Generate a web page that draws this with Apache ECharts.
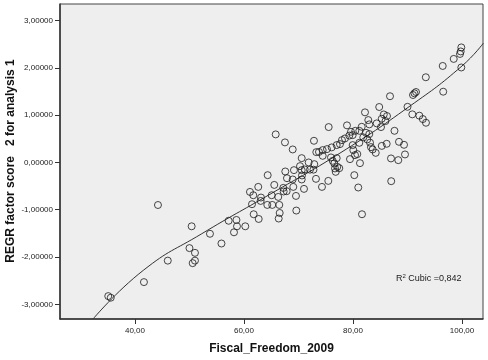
<!DOCTYPE html>
<html>
<head>
<meta charset="utf-8">
<script src="https://cdn.jsdelivr.net/npm/echarts@6/dist/echarts.min.js"></script>
<style>html,body{margin:0;padding:0;background:#fff}#c{width:488px;height:360px}</style>
</head>
<body>
<div id="c"></div>
<script>
// Scatter points: Fiscal_Freedom_2009 (x) vs REGR factor score 2 (y)
const fiscalFreedom = [
99.87,99.76,99.63,98.48,96.46,99.87,93.36,96.55,91.56,91.28,91.01,86.79,90.00,84.81,90.88,92.17,92.81,93.39,82.20,85.65,
86.24,85.27,85.96,85.14,82.81,84.35,82.99,81.60,78.90,75.54,80.42,79.63,81.16,82.39,82.99,81.89,79.94,79.32,78.53,77.98,
77.61,77.01,76.09,75.23,74.44,73.76,73.27,74.44,72.84,87.61,88.44,89.36,86.18,85.28,89.54,86.97,88.31,87.01,81.65,80.97,
80.24,81.28,79.45,80.37,80.79,84.17,83.61,83.30,83.12,82.62,81.16,79.94,80.06,68.94,70.59,75.96,76.28,76.57,77.01,77.12,
76.70,76.83,77.49,72.90,71.87,70.28,70.59,71.14,72.11,70.59,70.64,71.01,73.21,75.47,74.31,69.17,67.58,67.89,68.94,69.05,
65.82,67.52,64.35,65.56,67.21,67.83,69.54,66.29,65.08,63.12,62.62,61.10,61.71,61.47,63.06,64.28,65.19,66.48,67.28,69.60,
66.55,66.37,61.78,62.70,60.24,58.72,58.62,58.17,57.19,55.87,53.76,50.40,50.00,51.01,51.01,50.59,46.02,44.22,41.65,35.10,
35.56,72.75
];
const factorScore = [
2.432,2.347,2.294,2.189,2.040,2.008,1.801,1.496,1.489,1.462,1.426,1.400,1.176,1.172,1.017,0.989,0.917,0.839,1.059,1.015,
0.981,0.924,0.875,0.748,0.896,0.826,0.805,0.754,0.784,0.748,0.669,0.648,0.669,0.627,0.600,0.530,0.578,0.568,0.508,0.472,
0.388,0.367,0.318,0.282,0.261,0.222,0.218,0.140,0.458,0.669,0.436,0.373,0.394,0.350,0.169,0.085,0.049,-0.396,-1.095,-0.530,
-0.269,-0.015,0.070,0.155,0.176,0.203,0.275,0.324,0.419,0.487,0.415,0.367,0.261,0.275,0.091,0.106,0.034,-0.021,0.091,-0.093,
-0.127,-0.199,-0.121,-0.036,0.000,-0.078,-0.163,-0.148,-0.153,-0.360,-0.275,-0.559,-0.347,-0.390,-0.517,-0.163,-0.191,-0.333,-0.360,-0.517,
0.593,0.424,-0.269,-0.475,-0.538,-0.608,-0.708,-0.729,-0.693,-0.742,-0.517,-0.623,-0.693,-0.883,-0.814,-0.898,-0.898,-0.898,-0.614,-1.017,
-1.068,-1.186,-1.095,-1.195,-1.350,-1.350,-1.216,-1.477,-1.233,-1.714,-1.508,-1.350,-1.811,-1.911,-2.076,-2.129,-2.076,-0.900,-2.530,-2.826,
-2.860,-0.153
];
// Cubic fit line
const curveX = [32.35,41.52,52.24,64.95,77.61,90.46,100.00,103.91];
const curveY = [-3.305,-2.282,-1.508,-0.661,0.197,1.193,2.040,2.521];
const xTicks = [40,60,80,100];
const yTicks = [-3,-2,-1,0,1,2,3];

const points = fiscalFreedom.map((x,i)=>[x,factorScore[i]]);
const curve = curveX.map((x,i)=>[x,curveY[i]]);

const chart = echarts.init(document.getElementById('c'), null, {renderer:'canvas'});
const font = 'Arial, "Liberation Sans", sans-serif';
chart.setOption({
  animation:false,
  backgroundColor:'#ffffff',
  grid:{left:60,top:4,right:5,bottom:41,containLabel:false,outerBoundsMode:'none',
    show:true,backgroundColor:'#eeeeee',borderColor:'#444',borderWidth:1},
  xAxis:{
    type:'value',min:26.25,max:103.85,
    name:'Fiscal_Freedom_2009',nameLocation:'middle',nameGap:24,
    nameTextStyle:{fontFamily:font,fontSize:12,fontWeight:'bold',color:'#111',verticalAlign:'top'},
    axisLine:{show:true,onZero:false,lineStyle:{color:'#333',width:1.5}},
    axisTick:{show:true,length:5,customValues:xTicks,lineStyle:{color:'#333'}},
    axisLabel:{customValues:xTicks,margin:8,fontFamily:font,fontSize:8,color:'#222',
      formatter:v=>v.toFixed(2).replace('.',',')},
    splitLine:{show:false}
  },
  yAxis:{
    type:'value',min:-3.31,max:3.35,
    axisLine:{show:true,onZero:false,lineStyle:{color:'#333',width:1.5}},
    axisTick:{show:true,length:5,customValues:yTicks,lineStyle:{color:'#333'}},
    axisLabel:{customValues:yTicks,margin:7,fontFamily:font,fontSize:8,color:'#222',
      formatter:v=>v.toFixed(5).replace('.',',').replace('-0,00000','0,00000')},
    splitLine:{show:false}
  },
  series:[
    {type:'line',data:curve,smooth:0.5,symbol:'none',lineStyle:{color:'#333',width:1},z:2},
    {type:'scatter',data:points,symbol:'circle',symbolSize:7,
      itemStyle:{color:'rgba(0,0,0,0)',borderColor:'#1a1a1a',borderWidth:1},z:3}
  ],
  graphic:[{
    type:'text',x:11,y:161,rotation:Math.PI/2,
    style:{text:'REGR factor score   2 for analysis 1',fontFamily:font,fontSize:12,fontWeight:'bold',
      fill:'#111',align:'center',verticalAlign:'middle'}
  },{
    type:'text',left:396,top:273,
    style:{text:'{a|R}{b|2}{a| Cubic =0,842}',rich:{
      a:{fontFamily:font,fontSize:9,fill:'#222',verticalAlign:'bottom'},
      b:{fontFamily:font,fontSize:6,fill:'#222',verticalAlign:'top',padding:[0,0,4,0]}
    }}
  }]
});
</script>
</body>
</html>
